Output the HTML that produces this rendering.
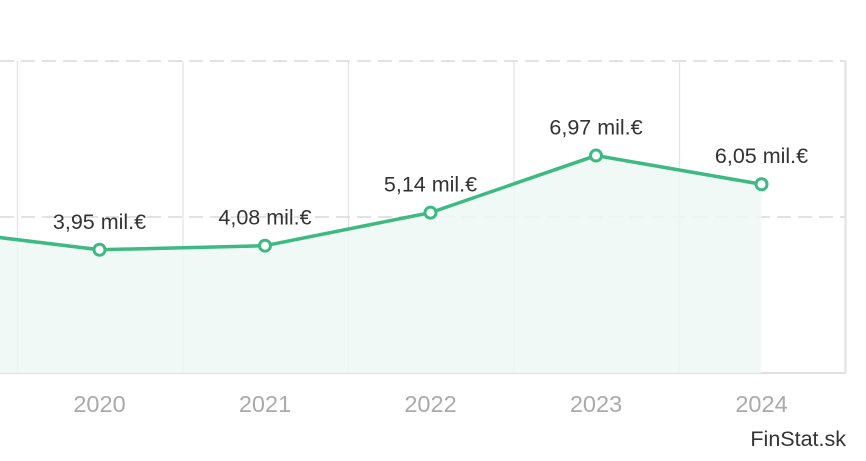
<!DOCTYPE html>
<html><head><meta charset="utf-8"><style>
body{margin:0;background:#fff;width:866px;height:456px;overflow:hidden;font-family:"Liberation Sans",sans-serif}
</style></head><body>
<svg id="chart" width="866" height="456" xmlns="http://www.w3.org/2000/svg"></svg>
<script>
const categories=["2019","2020","2021","2022","2023","2024"];
const values=[4.6,3.95,4.08,5.14,6.97,6.05];
const valueLabels=["4,6 mil.€","3,95 mil.€","4,08 mil.€","5,14 mil.€","6,97 mil.€","6,05 mil.€"];
const yTicks=[0,5,10];
const NS="http://www.w3.org/2000/svg";
const svg=document.getElementById('chart');
const x=i=>-66+i*165.5;
const y=v=>373-v*31.2;
function el(t,a,p){const e=document.createElementNS(NS,t);for(const k in a)e.setAttribute(k,a[k]);(p||svg).appendChild(e);return e;}
for(let i=0;i<=categories.length;i++){
  const gx=x(i)-82;
  const g=el('line',{x1:gx,y1:61,x2:gx,y2:373,stroke:'#e4e4e4','stroke-width':1.3});
  
  
}
const rb=el('line',{x1:846,y1:61,x2:846,y2:373,stroke:'#e4e4e4','stroke-width':1.3});


yTicks.forEach(t=>{
  if(t===0)return;
  const g=el('line',{x1:0,y1:y(t),x2:846,y2:y(t),stroke:'#e2e2e2','stroke-width':2,'stroke-dasharray':'14 7'});
  
  
});
const ax=el('line',{x1:0,y1:373,x2:846,y2:373,stroke:'#e0e0e0','stroke-width':2});


let pts=values.map((v,i)=>x(i)+','+y(v)).join(' ');
const area=el('polygon',{points:pts+' '+x(values.length-1)+',373 '+x(0)+',373',fill:'#eef8f4','fill-opacity':0.85});


const line=el('polyline',{points:pts,fill:'none',stroke:'#3dba84','stroke-width':3.5,'stroke-linejoin':'round'});


values.forEach((v,i)=>{
  const c=el('circle',{cx:x(i),cy:y(v),r:5.5,fill:'#fff',stroke:'#3dba84','stroke-width':3});
  
  
  const t=el('text',{x:x(i),y:y(v)-21,'text-anchor':'middle','font-size':21.5,fill:'#333'});
  t.textContent=valueLabels[i];
  
  
  const l=el('text',{x:x(i),y:412,'text-anchor':'middle','font-size':23.5,fill:'#aaa'});
  l.textContent=categories[i];
  
  
});
const f=el('text',{x:846,y:446,'text-anchor':'end','font-size':21.5,fill:'#333'});
f.textContent='FinStat.sk';


</script>
</body></html>
